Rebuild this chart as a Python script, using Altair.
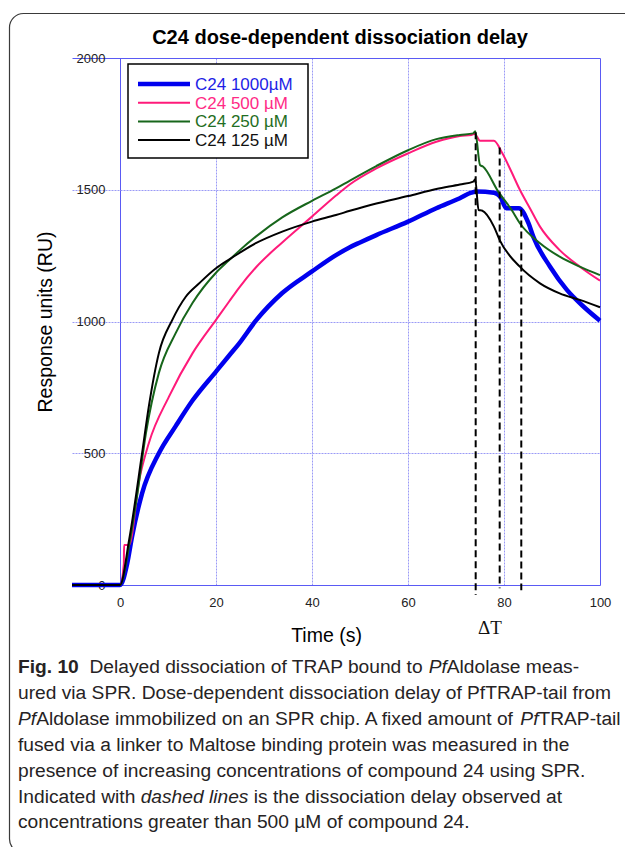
import altair as alt
import pandas as pd

# ---------------- data ----------------
series_names = ["C24 1000µM", "C24 500 µM", "C24 250 µM", "C24 125 µM"]
series_colors = ["#0000ee", "#ff1a7a", "#17661b", "#000000"]
series_widths = [4.5, 2.0, 2.0, 2.0]
legend_text_colors = ["#1e1ee6", "#ff2a86", "#1f6e23", "#111111"]

t_1000 = [-10, 0, 1.5, 2.5, 4.6, 8.1, 11.6, 15.1, 20.0, 22.7, 24.8, 28.3, 33.8, 40.0, 45.0, 47.9,
          50.0, 53.4, 60.0, 65.9, 70.8, 73.2, 74.3, 77.9, 79.2, 80.5, 83.1, 85.1, 86.1, 89.6, 93.1, 96.6, 100]
ru_1000 = [0, 0, 82, 183, 348, 500, 603, 700, 810, 870, 916, 1003, 1108, 1190, 1252, 1282,
           1300, 1328, 1379, 1430, 1468, 1489, 1493, 1489, 1474, 1430, 1430, 1373, 1322, 1208, 1120, 1056, 1003]

t_500 = [-10, 0, 0.8, 0.85, 1.9, 4.0, 6.0, 10.2, 15.1, 20.0, 22.7, 24.8, 28.3, 33.8, 40.0, 45.0, 48.0,
         53.4, 60.0, 65.9, 70.8, 73.2, 73.9, 75.0, 77.9, 79.6, 81.5, 83.3, 85.4, 87.5, 91.6, 95.8, 100]
ru_500 = [0, 0, 80, 152, 152, 398, 538, 715, 879, 1006, 1075, 1128, 1205, 1300, 1398, 1478, 1522,
          1581, 1638, 1682, 1704, 1708, 1712, 1686, 1686, 1640, 1570, 1500, 1430, 1360, 1271, 1208, 1155]

t_250 = [-10, 0, 2.0, 3.5, 5.4, 8.1, 11.6, 15.1, 20.0, 22.7, 24.8, 28.3, 33.8, 40.0, 45.0, 47.9, 53.4,
         60.0, 65.9, 70.8, 73.6, 74.0, 75.0, 75.6, 78.8, 81.6, 83.3, 87.5, 91.6, 95.8, 100]
ru_250 = [0, 0, 160, 330, 576, 805, 956, 1070, 1185, 1232, 1268, 1322, 1395, 1458, 1505, 1535, 1590,
          1650, 1692, 1708, 1714, 1722, 1594, 1588, 1493, 1423, 1373, 1297, 1246, 1208, 1176]

t_125 = [-10, 0, 1.9, 4.6, 6.0, 8.1, 10.9, 13.7, 16.5, 20.0, 22.7, 24.8, 28.3, 33.8, 40.0, 45.0, 47.9,
         53.4, 60.0, 65.9, 70.8, 73.6, 74.0, 74.7, 75.4, 77.9, 79.1, 83.3, 87.5, 91.6, 95.8, 100]
ru_125 = [0, 0, 171, 500, 677, 880, 1006, 1094, 1145, 1202, 1235, 1259, 1297, 1341, 1379, 1404, 1420,
          1448, 1476, 1503, 1520, 1531, 1540, 1423, 1421, 1360, 1309, 1208, 1145, 1107, 1082, 1054]

dash_t = [74.1, 79.1, 83.6]
dash_top = [1718, 1660, 1425]
dash_bottom = [-38, -12, -20]

x_ticks = [0, 20, 40, 60, 80, 100]
y_ticks = [0, 500, 1000, 1500, 2000]

chart_title = "C24 dose-dependent dissociation delay"
x_title = "Time (s)"
y_title = "Response units (RU)"
delta_label = "ΔT"

caption_lines = [
    [("Fig. 10", "bold"), ("  Delayed dissociation of TRAP bound to ", "normal"), ("Pf", "italic"), ("Aldolase meas-", "normal")],
    [("ured via SPR. Dose-dependent dissociation delay of PfTRAP-tail from", "normal")],
    [("Pf", "italic"), ("Aldolase immobilized on an SPR chip. A fixed amount of ", "normal"), ("Pf", "italic"), ("TRAP-tail", "normal")],
    [("fused via a linker to Maltose binding protein was measured in the", "normal")],
    [("presence of increasing concentrations of compound 24 using SPR.", "normal")],
    [("Indicated with ", "normal"), ("dashed lines", "italic"), (" is the dissociation delay observed at", "normal")],
    [("concentrations greater than 500 µM of compound 24.", "normal")],
]

# ---------------- layout ----------------
W, H = 528, 527
PAD = {"left": 72, "top": 58, "right": 25, "bottom": 262}
FONT = "Liberation Sans"
GRID_EDGE = "#5a5af4"
GRID_IN = "#9a9af6"

# Arial / Liberation Sans advance widths (1/1000 em) used to place mixed-style caption runs
AR = {" ": 278, ".": 278, ",": 278, "-": 333, "(": 333, ")": 333, ":": 278, "µ": 556}
for c in "0123456789":
    AR[c] = 556
AR.update(dict(zip("ABCDEFGHIJKLMNOPQRSTUVWXYZ",
                   [667, 667, 722, 722, 667, 611, 778, 722, 278, 500, 667, 556, 833, 722, 778, 667, 778, 722,
                    667, 611, 722, 667, 944, 667, 667, 611])))
AR.update(dict(zip("abcdefghijklmnopqrstuvwxyz",
                   [556, 556, 500, 556, 556, 278, 556, 556, 222, 222, 500, 222, 833, 556, 556, 556, 556, 333,
                    500, 278, 556, 500, 722, 500, 500, 500])))
ARB = {"F": 611, "i": 278, "g": 611, ".": 278, " ": 278, "1": 556, "0": 556}


def em_width(s, style):
    tbl = ARB if style == "bold" else {}
    return sum(tbl.get(ch, AR.get(ch, 556)) for ch in s) / 1000.0


cap_size = 593.0 / em_width(caption_lines[1][0][0], "normal")
cap_left = 18 - PAD["left"]
cap_top = 667 - PAD["top"]
cap_step = 25.9

xscale = alt.Scale(domain=[-10, 100], nice=False, zero=False)
yscale = alt.Scale(domain=[0, 2000], nice=False, zero=False)

x_edge = "datum.value == 0 || datum.value == 100"
y_edge = "datum.value == 0 || datum.value == 2000"

xaxis = alt.Axis(values=x_ticks, grid=True,
                 gridColor=alt.condition(x_edge, alt.value(GRID_EDGE), alt.value(GRID_IN)),
                 gridDash=alt.condition(x_edge, alt.value([]), alt.value([2, 1])),
                 gridWidth=1, domain=False, ticks=False,
                 tickSize=0, labelPadding=11, labelFontSize=13, labelFont=FONT, labelColor="#222222",
                 labelFlush=False, labelOverlap=False, format="d",
                 titleFont=FONT, titleFontSize=19.5, titleFontWeight="normal", titleColor="#000000",
                 titleX=254, titleY=41, titleBaseline="top", titleAlign="center")
yaxis = alt.Axis(values=y_ticks, grid=True,
                 gridColor=alt.condition(y_edge, alt.value(GRID_EDGE), alt.value(GRID_IN)),
                 gridDash=alt.condition(y_edge, alt.value([]), alt.value([2, 1])),
                 gridWidth=1, domain=False, ticks=False,
                 tickSize=0, labelPadding=-33, labelFontSize=13, labelFont=FONT, labelColor="#222222",
                 labelOverlap=False, labelFlush=False, format="d",
                 titleFont=FONT, titleFontSize=19.5, titleFontWeight="normal", titleColor="#000000",
                 titleX=-27, titleY=H / 2, titleBaseline="middle", titleAlign="center", titleAngle=270)

color_scale = alt.Scale(domain=series_names, range=series_colors)
dummy = pd.DataFrame({"d": [0]})

layers = []

# figure frame (rounded box around figure and caption)
layers.append(alt.Chart(dummy).mark_rect(fillOpacity=0, stroke="#3a3a3a", strokeWidth=1.2, cornerRadius=14).encode(
    x=alt.value(9.5 - PAD["left"]), x2=alt.value(700), y=alt.value(13.5 - PAD["top"]), y2=alt.value(853 - PAD["top"])))

series_data = [(t_1000, ru_1000), (t_500, ru_500), (t_250, ru_250), (t_125, ru_125)]
for name, (tt, rr), wdt in zip(series_names, series_data, series_widths):
    df = pd.DataFrame({"t": tt, "ru": rr, "series": name, "i": list(range(len(tt)))})
    layers.append(alt.Chart(df).mark_line(strokeWidth=wdt, strokeJoin="round", interpolate="monotone").encode(
        x=alt.X("t:Q", scale=xscale, axis=xaxis, title=x_title),
        y=alt.Y("ru:Q", scale=yscale, axis=yaxis, title=y_title),
        color=alt.Color("series:N", scale=color_scale, legend=None),
        order=alt.Order("i:Q"),
    ))

dash_df = pd.DataFrame({"t": dash_t, "ru": dash_top, "ru2": dash_bottom})
layers.append(alt.Chart(dash_df).mark_rule(strokeDash=[7, 4], strokeWidth=2, color="#000000").encode(
    x=alt.X("t:Q", scale=xscale, axis=xaxis, title=x_title),
    y=alt.Y("ru:Q", scale=yscale, axis=yaxis, title=y_title),
    y2="ru2:Q",
))

# legend box
lx0, ly0, lx1, ly1 = 128 - PAD["left"], 64 - PAD["top"], 308 - PAD["left"], 158 - PAD["top"]
layers.append(alt.Chart(dummy).mark_rect(fill="#ffffff", stroke="#000000", strokeWidth=1.5).encode(
    x=alt.value(lx0), x2=alt.value(lx1), y=alt.value(ly0), y2=alt.value(ly1)))
for k, (name, col, tcol, wdt) in enumerate(zip(series_names, series_colors, legend_text_colors, series_widths)):
    yy = 84 - PAD["top"] + k * 18.7
    layers.append(alt.Chart(dummy).mark_rule(strokeWidth=wdt, color=col).encode(
        x=alt.value(138 - PAD["left"]), x2=alt.value(190 - PAD["left"]), y=alt.value(yy)))
    layers.append(alt.Chart(dummy).mark_text(text=name, font=FONT, fontSize=17, color=tcol, align="left",
                                             baseline="middle").encode(
        x=alt.value(195 - PAD["left"]), y=alt.value(yy + 1)))

# chart title
layers.append(alt.Chart(dummy).mark_text(text=chart_title, font=FONT, fontSize=20, fontWeight="bold",
                                         color="#000000", align="center", baseline="middle").encode(
    x=alt.value(340 - PAD["left"]), y=alt.value(38 - PAD["top"])))

# delta T label
layers.append(alt.Chart(dummy).mark_text(text=delta_label, font="Liberation Serif", fontSize=19,
                                         color="#111111", align="center", baseline="middle").encode(
    x=alt.value(490 - PAD["left"]), y=alt.value(628 - PAD["top"])))

# caption (mixed styles placed run by run)
for li, runs in enumerate(caption_lines):
    cursor = 0.0
    yy = cap_top + li * cap_step
    for txt, style in runs:
        lead = len(txt) - len(txt.lstrip(" "))
        xpos = cap_left + (cursor + em_width(" " * lead, style)) * cap_size
        cursor += em_width(txt, style)
        kw = dict(text=txt.strip(" "), font=FONT, fontSize=cap_size, color="#262324",
                  align="left", baseline="middle")
        if style == "bold":
            kw["fontWeight"] = "bold"
        if style == "italic":
            kw["fontStyle"] = "italic"
        layers.append(alt.Chart(dummy).mark_text(**kw).encode(x=alt.value(xpos), y=alt.value(yy)))

chart = alt.layer(*layers).properties(
    width=W, height=H, padding=PAD, autosize=alt.AutoSizeParams(type="none"),
    background="#ffffff",
).configure_view(stroke=None)

chart.save("out.html", embed_options={"renderer": "svg", "actions": False})
